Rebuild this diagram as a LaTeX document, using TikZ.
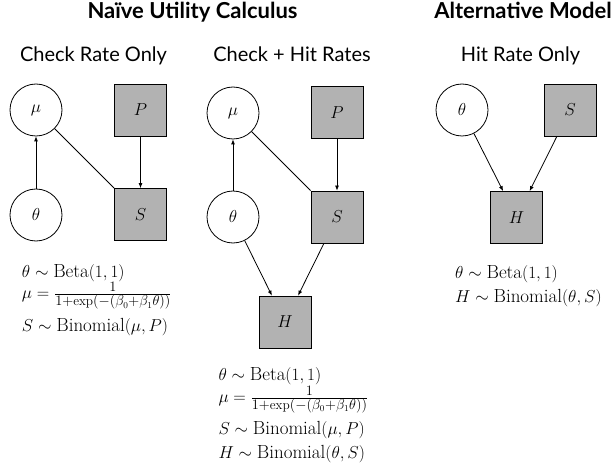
\documentclass[tikz,border=0pt]{standalone}
\usepackage{fontspec}
\newfontfamily\labfont{Lato}
\usetikzlibrary{arrows.meta}
\begin{document}
\begin{tikzpicture}[x=1pt,y=-1pt,
  var/.style={circle,draw,line width=0.8pt,minimum size=52pt,inner sep=0pt,font=\fontsize{18.5}{22}\selectfont},
  obs/.style={rectangle,draw,fill=black!30,line width=0.8pt,minimum size=52pt,inner sep=0pt,font=\fontsize{18.5}{22}\selectfont},
  arr/.style={line width=0.8pt,-{Latex[length=5pt,width=4pt]}},
  lin/.style={line width=0.8pt},
  ttl/.style={font=\labfont\bfseries\fontsize{22}{26}\selectfont,anchor=base,inner sep=0pt},
  sub/.style={font=\labfont\fontsize{20}{24}\selectfont,anchor=base,inner sep=0pt},
  eq/.style={anchor=base west,inner sep=0pt,font=\fontsize{19}{23}\selectfont}]
\useasboundingbox (0,0) rectangle (616,465);
% titles
\node[ttl] (t1) at (192.5,18.3) {Naïve Utility Calculus};
\node[ttl] (t2) at (523,18.3) {Alternative Model};
\node[sub] (s1) at (93.5,61.7) {Check Rate Only};
\node[sub] (s2) at (292,61.7) {Check + Hit Rates};
\node[sub] (s3) at (520.5,61.7) {Hit Rate Only};
% panel 1
\node[var] (mu1) at (36,110) {$\mu$};
\node[obs] (P1) at (140.5,110) {$P$};
\node[var] (th1) at (36,215) {$\theta$};
\node[obs] (S1) at (140.5,214.5) {$S$};
\draw[arr] (th1) -- (mu1);
\draw[lin] (mu1) -- (S1);
\draw[arr] (P1) -- (S1);
\node[eq] (e11) at (21.7,277) {$\theta \sim \mathrm{Beta}(1,1)$};
\node[eq] (e12) at (21.7,298.8) {$\mu = \frac{1}{1+\exp(-(\beta_0+\beta_1\theta))}$};
\node[eq] (e13) at (21.7,331.7) {$S \sim \mathrm{Binomial}(\mu,P)$};
% panel 2
\node[var] (mu2) at (233,113) {$\mu$};
\node[obs] (P2) at (337,112.5) {$P$};
\node[var] (th2) at (233,217) {$\theta$};
\node[obs] (S2) at (337,217) {$S$};
\node[obs] (H2) at (285,322) {$H$};
\draw[arr] (th2) -- (mu2);
\draw[lin] (mu2) -- (S2);
\draw[arr] (P2) -- (S2);
\draw[arr] (th2) -- (H2);
\draw[arr] (S2) -- (H2);
\node[eq] (e21) at (218.3,380) {$\theta \sim \mathrm{Beta}(1,1)$};
\node[eq] (e22) at (218.3,402.5) {$\mu = \frac{1}{1+\exp(-(\beta_0+\beta_1\theta))}$};
\node[eq] (e23) at (218.3,434) {$S \sim \mathrm{Binomial}(\mu,P)$};
\node[eq] (e24) at (218.3,458) {$H \sim \mathrm{Binomial}(\theta,S)$};
% panel 3
\node[var] (th3) at (462,110) {$\theta$};
\node[obs] (S3) at (570,110) {$S$};
\node[obs] (H3) at (516.5,217.5) {$H$};
\draw[arr] (th3) -- (H3);
\draw[arr] (S3) -- (H3);
\node[eq] (e31) at (455,278.5) {$\theta \sim \mathrm{Beta}(1,1)$};
\node[eq] (e32) at (455,302) {$H \sim \mathrm{Binomial}(\theta,S)$};
\end{tikzpicture}
\end{document}
